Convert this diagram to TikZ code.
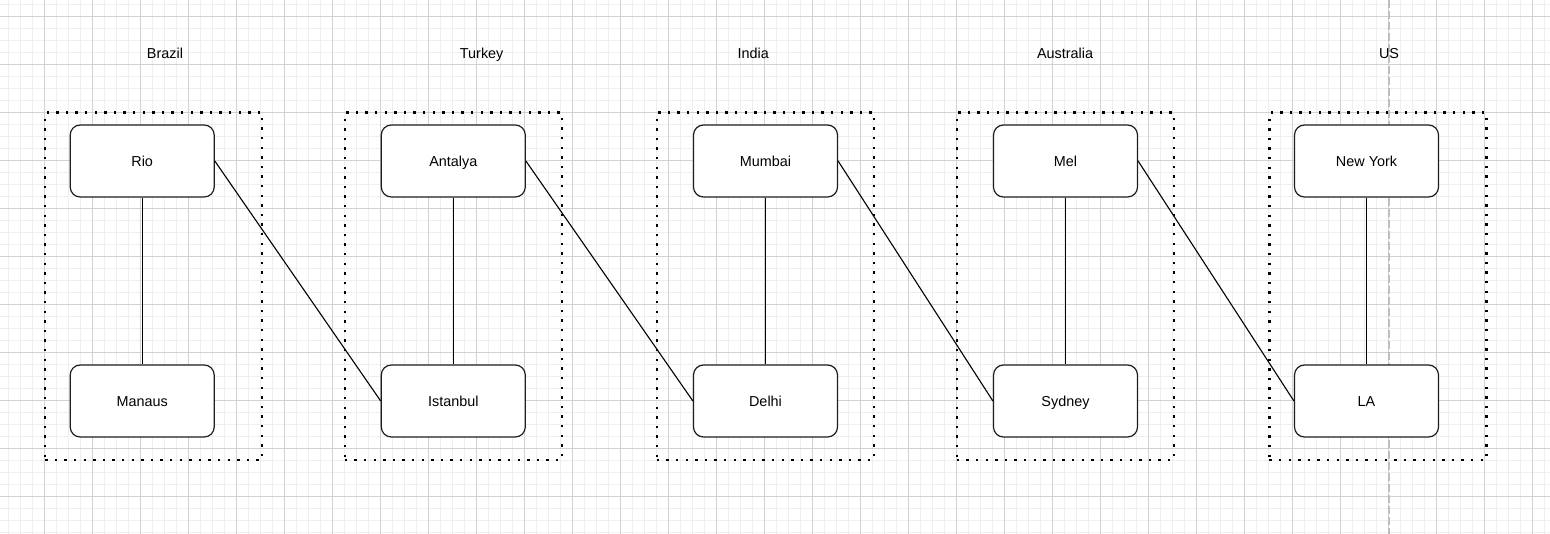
\documentclass[tikz,border=0pt]{standalone}
\usepackage{fontspec}
\setmainfont{Liberation Sans}
\begin{document}
\begin{tikzpicture}[x=1pt,y=-1pt,
  minorgrid/.style={draw={rgb,255:red,238;green,238;blue,238}, line width=1.4pt},
  majorgrid/.style={draw={rgb,255:red,210;green,210;blue,210}, line width=1pt},
  pagebreak/.style={draw={rgb,255:red,190;green,190;blue,190}, line width=1.5pt, dash pattern=on 8pt off 3pt},
  grp/.style={draw=black, line width=2.4pt, dash pattern=on 2.4pt off 7.2pt, minimum width=217pt, minimum height=347.3pt, inner sep=0pt},
  citybox/.style={draw={rgb,255:red,30;green,30;blue,30}, line width=1.2pt, rounded corners=10pt, fill=white, minimum width=144pt, minimum height=72pt, inner sep=0pt, text height=10.3pt, text depth=0pt, font=\fontsize{14.4}{17}\selectfont},
  lbl/.style={inner sep=0pt, text height=10.3pt, text depth=0pt, font=\fontsize{14.4}{17}\selectfont},
  link/.style={draw=black, line width=1.1pt}
]
\useasboundingbox (0,0) rectangle (1550,534);
\fill[white] (0,0) rectangle (1550,534);
% grid
\foreach \i in {0,...,128} {\draw[minorgrid] (8.5+12*\i,0) -- (8.5+12*\i,534);}
\foreach \j in {0,...,44} {\draw[minorgrid] (0,4.5+12*\j) -- (1550,4.5+12*\j);}
\foreach \i in {0,...,31} {\draw[majorgrid] (44.5+48*\i,0) -- (44.5+48*\i,534);}
\foreach \j in {0,...,10} {\draw[majorgrid] (0,16.5+48*\j) -- (1550,16.5+48*\j);}
% page break line
\coordinate (pbt) at (1389,0);
\coordinate (pbb) at (1389,534);
\draw[pagebreak] (pbt) -- (pbb);
% group boxes
\node[grp] (gBR) at (153.75,286.35) {};
\node[grp] (gTR) at (453.35,286.35) {};
\node[grp] (gIN) at (765.3,286.35) {};
\node[grp] (gAU) at (1065.3,286.35) {};
\node[grp] (gUS) at (1377.85,286.35) {};
% labels
\node[lbl] (lBR) at (165,53) {Brazil};
\node[lbl] (lTR) at (481.7,53) {Turkey};
\node[lbl] (lIN) at (753.3,53) {India};
\node[lbl] (lAU) at (1065,53) {Australia};
\node[lbl] (lUS) at (1389,53) {US};
% cities
\node[citybox] (rio) at (142.2,161) {Rio};
\node[citybox] (manaus) at (142.2,401) {Manaus};
\node[citybox] (antalya) at (453.3,161) {Antalya};
\node[citybox] (istanbul) at (453.3,401) {Istanbul};
\node[citybox] (mumbai) at (765.5,161) {Mumbai};
\node[citybox] (delhi) at (765.5,401) {Delhi};
\node[citybox] (mel) at (1065.5,161) {Mel};
\node[citybox] (sydney) at (1065.5,401) {Sydney};
\node[citybox] (ny) at (1366.5,161) {New York};
\node[citybox] (la) at (1366.5,401) {LA};
% connectors
\draw[link] (rio.south) -- (manaus.north);
\draw[link] (antalya.south) -- (istanbul.north);
\draw[link] (mumbai.south) -- (delhi.north);
\draw[link] (mel.south) -- (sydney.north);
\draw[link] (ny.south) -- (la.north);
\draw[link] (rio.east) -- (istanbul.west);
\draw[link] (antalya.east) -- (delhi.west);
\draw[link] (mumbai.east) -- (sydney.west);
\draw[link] (mel.east) -- (la.west);
\end{tikzpicture}
\end{document}
